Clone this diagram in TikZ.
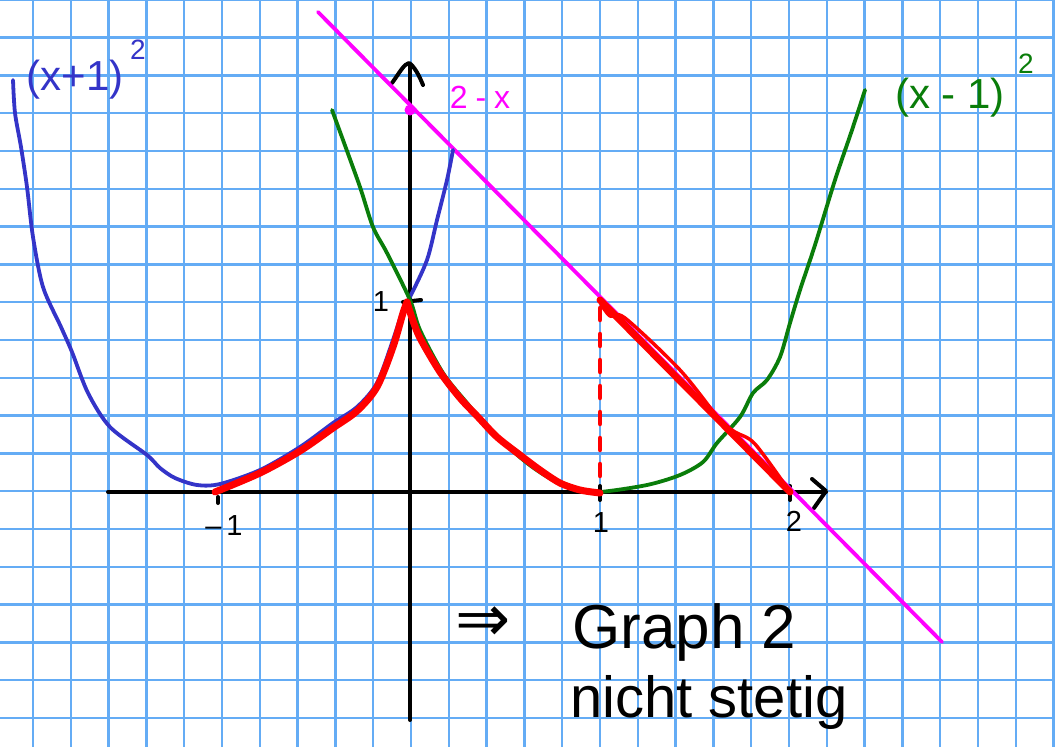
\documentclass[tikz,border=0pt]{standalone}
\usepackage{fontspec}
\setmainfont{Liberation Sans}
\newfontfamily\dejavu{DejaVu Sans}
\definecolor{gridblue}{RGB}{100,172,245}
\definecolor{penblue}{RGB}{52,52,200}
\definecolor{pengreen}{RGB}{10,125,10}
\definecolor{penmag}{RGB}{255,0,255}
\definecolor{penred}{RGB}{255,0,0}
\begin{document}
\begin{tikzpicture}[x=1pt,y=-1pt,
  gridline/.style={gridblue,line width=2.4pt},
  pen/.style={line width=3.8pt,line cap=round,line join=round},
  axisline/.style={pen,black,line width=4pt},
  redpen/.style={pen,penred,line width=7pt},
  lbl/.style={inner sep=0pt,font=\fontsize{29}{29}\selectfont},
  biglbl/.style={inner sep=0pt,anchor=base west}]
\useasboundingbox (0,0) rectangle (1055,747);
\fill[white] (0,0) rectangle (1055,747);
% grid paper
\foreach \k in {0,...,27} \draw[gridline] ({33+37.8*\k},0) -- ({33+37.8*\k},747);
\foreach \k in {0,...,19} \draw[gridline] (0,{-0.3+37.8*\k}) -- (1055,{-0.3+37.8*\k});
% axes
\draw[axisline] (108,492) -- (826,492);
\draw[axisline] (410,720) -- (410,64);
\draw[axisline] (392,83) .. controls (400,72) and (404,64) .. (409,63) .. controls (414,66) and (419,75) .. (423,85);
\draw[axisline] (812,479) -- (826,491) -- (814,508);
% ticks
\draw[axisline] (218,497) -- (218,503);
\draw[axisline] (600,486) -- (600,500);
\draw[axisline] (790,486) -- (790,500);
\draw[axisline] (403,302) -- (421,300);
% magenta line 2-x
\draw[pen,penmag] (318,12) -- (942,642);
\fill[penmag] (410,110) circle (5.5);
% blue (x+1)^2
\draw[pen,penblue] plot[smooth] coordinates {(13,80) (15,113) (21,147) (27,187) (33,237) (43,287) (61,327) (72,352) (88,393) (110,427) (147,455) (160,468) (175,478) (197,485) (220,484) (260,470) (300,447) (333,423) (357,407) (377,383) (393,340) (403,310) (410,297) (427,260) (437,220) (447,180) (453,150)};
% green (x-1)^2
\draw[pen,pengreen] plot[smooth] coordinates {(332,110) (343,140) (360,187) (373,227) (387,253) (410,300) (420,330) (443,373) (467,403) (493,433) (527,463) (553,480) (580,490) (600,492) (647,485) (680,475) (703,462) (717,443) (740,417) (753,393) (767,380) (780,357) (790,323) (800,290) (815,245) (835,180) (852,130) (865,90)};
% red piecewise graph
\draw[redpen] plot[smooth] coordinates {(215,492) (260,473) (300,451) (333,428) (357,411) (377,387) (393,347) (403,313) (407,302)};
\draw[redpen] plot[smooth] coordinates {(407,302) (412,318) (420,338) (440,372) (460,398) (478,417) (497,437) (520,455) (540,470) (560,483) (580,490) (600,493)};
\draw[pen,penred,line width=4.5pt,dash pattern=on 12pt off 14pt] (600,308) -- (600,488);
\draw[redpen] (600,300) -- (790,492);
\draw[pen,penred,line width=3.5pt] plot[smooth] coordinates {(601,304) (610,316) (625,318) (680,370) (720,420) (735,432) (755,444) (790,492)};
% labels
\node[lbl] (lm1) at (224,526) {–\,1};
\node[lbl] (l1x) at (601,523) {1};
\node[lbl] (l2x) at (794,521) {2};
\node[lbl] (l1y) at (381,302) {1};
\node[inner sep=0pt,penblue,font=\fontsize{42}{42}\selectfont] (lblue) at (75,80) {(x+1)};
\node[inner sep=0pt,penblue,font=\fontsize{28}{28}\selectfont] (lblue2) at (138,50) {2};
\node[inner sep=0pt,penmag,font=\fontsize{32}{32}\selectfont] (lmag) at (480,97) {2\hspace{8pt}-\hspace{8pt}x};
\node[inner sep=0pt,pengreen,font=\fontsize{42}{42}\selectfont] (lgreen) at (950,98) {(x - 1)};
\node[inner sep=0pt,pengreen,font=\fontsize{28}{28}\selectfont] (lgreen2) at (1026,64) {2};
\node[inner sep=0pt,font=\fontsize{66}{66}\dejavu] (impl) at (483,624) {⇒};
\node[biglbl,font=\fontsize{62}{62}\selectfont] (graph) at (572,648) {Graph 2};
\node[biglbl,font=\fontsize{58}{58}\selectfont] (stetig) at (570,717) {nicht stetig};
\end{tikzpicture}
\end{document}
